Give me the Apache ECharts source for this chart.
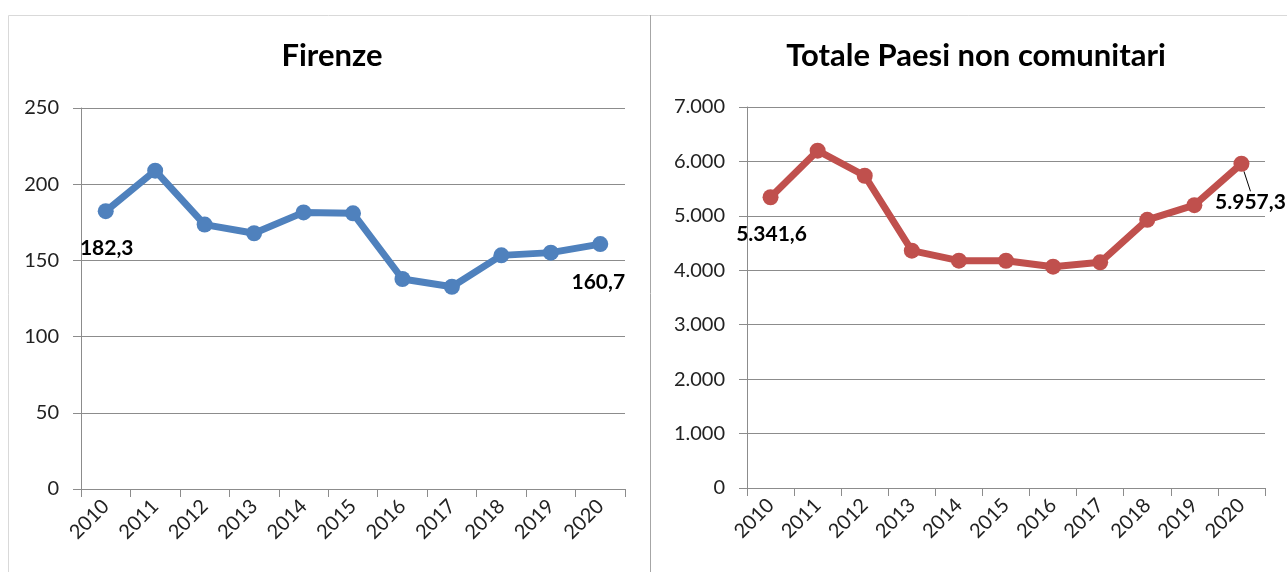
<!DOCTYPE html>
<html>
<head>
<meta charset="utf-8">
<script src="https://cdn.jsdelivr.net/npm/echarts@6/dist/echarts.min.js"></script>
<style>
  html, body { margin: 0; padding: 0; background: #fff; }
  #chart { width: 1287px; height: 572px; }
</style>
</head>
<body>
<div id="chart"></div>
<script>
// dati
const years = ['2010', '2011', '2012', '2013', '2014', '2015', '2016', '2017', '2018', '2019', '2020'];
const firenze = [182.3, 208.9, 173.5, 167.8, 181.5, 180.9, 137.8, 132.7, 153.3, 155.1, 160.7];
const nonComunitari = [5341.6, 6197, 5737, 4361, 4177, 4175, 4066, 4147, 4927, 5197, 5957.3];
const titles = ['Firenze', 'Totale Paesi non comunitari'];

const font = 'Lato, "Open Sans", sans-serif';
const grey = '#8c8c8c';

// formato italiano: 5.341,6
function itNum(v, dec) {
    const parts = v.toFixed(dec).split('.');
    parts[0] = parts[0].replace(/\B(?=(\d{3})+(?!\d))/g, '.');
    return parts.join(',');
}

// etichetta solo sul primo e sull'ultimo punto
function withEndLabels(values, leaderLast) {
    return values.map((v, i) => {
        if (i === 0) return { value: v, label: { show: true } };
        if (i === values.length - 1) {
            return { value: v, label: { show: true }, labelLine: { show: leaderLast } };
        }
        return v;
    });
}

function endLayout(n, first, last) {
    return p => {
        if (p.dataIndex === 0) return { dx: first[0], dy: first[1] };
        if (p.dataIndex === n - 1) return { dx: last[0], dy: last[1] };
        return {};
    };
}

const chart = echarts.init(document.getElementById('chart'));

const xAxisBase = {
    type: 'category',
    data: years,
    boundaryGap: true,
    axisLine: { lineStyle: { color: grey, width: 1 } },
    axisTick: { show: true, length: 8, lineStyle: { color: grey } },
    axisLabel: { rotate: 45, fontFamily: font, fontSize: 20, color: '#222', margin: 14 },
    splitLine: { show: false }
};

const yAxisBase = {
    type: 'value',
    min: 0,
    axisLine: { show: true, lineStyle: { color: grey, width: 1 } },
    axisTick: { show: true, length: 8, lineStyle: { color: grey } },
    axisLabel: { fontFamily: font, fontSize: 20, color: '#222', margin: 22 },
    splitLine: { show: true, lineStyle: { color: grey, width: 1 } }
};

const labelStyle = {
    fontFamily: font,
    fontSize: 21,
    fontWeight: 'bold',
    color: '#000',
    position: 'inside'
};

const titleStyle = { fontFamily: font, fontSize: 31, fontWeight: 'bold', color: '#000' };

chart.setOption({
    animation: false,
    title: [
        { text: titles[0], left: 327, top: 35, textAlign: 'center', textStyle: titleStyle },
        { text: titles[1], left: 971, top: 35, textAlign: 'center', textStyle: titleStyle }
    ],
    graphic: [
        {
            type: 'rect', silent: true,
            shape: { x: 8.5, y: 15.5, width: 1290, height: 600 },
            style: { fill: 'none', stroke: '#d9d9d9', lineWidth: 1 }
        },
        {
            type: 'line', silent: true,
            shape: { x1: 650.5, y1: 15, x2: 650.5, y2: 572 },
            style: { stroke: '#a6a6a6', lineWidth: 1 }
        }
    ],
    grid: [
        { left: 81, right: 662, top: 108, bottom: 83 },
        { left: 747, right: 22, top: 107, bottom: 84 }
    ],
    xAxis: [
        Object.assign({ gridIndex: 0 }, xAxisBase),
        Object.assign({ gridIndex: 1 }, xAxisBase)
    ],
    yAxis: [
        Object.assign({}, yAxisBase, { gridIndex: 0, max: 250, interval: 50 }),
        Object.assign({}, yAxisBase, {
            gridIndex: 1, max: 7000, interval: 1000,
            axisLabel: Object.assign({}, yAxisBase.axisLabel, { formatter: v => itNum(v, 0) })
        })
    ],
    series: [
        {
            type: 'line',
            xAxisIndex: 0, yAxisIndex: 0,
            data: withEndLabels(firenze, false),
            symbol: 'circle',
            symbolSize: 16,
            lineStyle: { color: '#4f81bd', width: 7 },
            itemStyle: { color: '#4f81bd' },
            label: Object.assign({ show: false, formatter: p => itNum(p.value, 1) }, labelStyle),
            labelLayout: endLayout(firenze.length, [1, 37], [-2, 38])
        },
        {
            type: 'line',
            xAxisIndex: 1, yAxisIndex: 1,
            data: withEndLabels(nonComunitari, true),
            symbol: 'circle',
            symbolSize: 16,
            lineStyle: { color: '#c0504d', width: 7 },
            itemStyle: { color: '#c0504d' },
            label: Object.assign({ show: false, formatter: p => itNum(p.value, 1) }, labelStyle),
            labelLine: { show: false, lineStyle: { color: '#000', width: 1 } },
            labelLayout: endLayout(nonComunitari.length, [1, 37], [9, 38])
        }
    ]
});
</script>
</body>
</html>
